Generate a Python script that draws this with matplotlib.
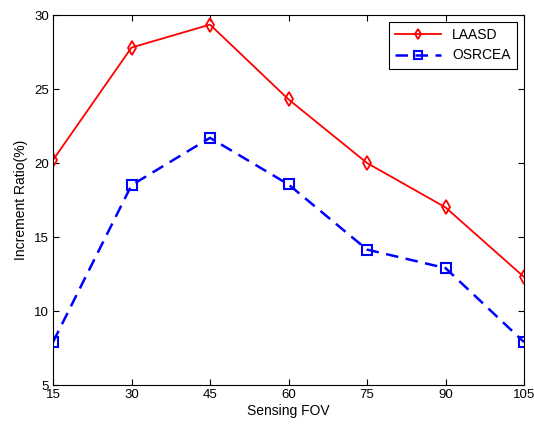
import matplotlib
matplotlib.use("Agg")
import matplotlib.pyplot as plt

plt.rcParams['font.family'] = ['Liberation Sans', 'DejaVu Sans']

fov = [15, 30, 45, 60, 75, 90, 105]
laasd = [20.2, 27.8, 29.35, 24.3, 20.0, 17.0, 12.3]
osrcea = [7.9, 18.5, 21.7, 18.55, 14.15, 12.9, 7.9]
xticks = [15, 30, 45, 60, 75, 90, 105]
yticks = [5, 10, 15, 20, 25, 30]

fig = plt.figure(figsize=(5.34, 4.26), dpi=100)
ax = fig.add_axes([53/534, 1 - 385/426, (524 - 53)/534, (385 - 15)/426])

ax.plot(fov, laasd, color='red', lw=1.3, marker='d', ms=7, mfc='none',
        mec='red', mew=1.3, label='LAASD')
ax.plot(fov, osrcea, color='blue', lw=1.8, ls=(0, (5, 3)), marker='s', ms=6.5,
        mfc='none', mec='blue', mew=1.5, label='OSRCEA')

ax.set_xlim(15, 105)
ax.set_ylim(5, 30)
ax.set_xticks(xticks)
ax.set_yticks(yticks)
ax.tick_params(direction='in', top=True, right=True, labelsize=9.5, length=4,
               width=0.8, pad=3)
for s in ax.spines.values():
    s.set_linewidth(0.8)

ax.set_xlabel('Sensing FOV', fontsize=10, labelpad=2)
ax.set_ylabel('Increment Ratio(%)', fontsize=10, labelpad=4)

leg = ax.legend(loc='upper right', fontsize=10, fancybox=False, framealpha=1,
                edgecolor='black', borderaxespad=0.5, handlelength=3.3,
                borderpad=0.45, labelspacing=0.45, markerscale=0.8)
leg.get_frame().set_linewidth(0.8)

fig.savefig('out.png', dpi=100)
